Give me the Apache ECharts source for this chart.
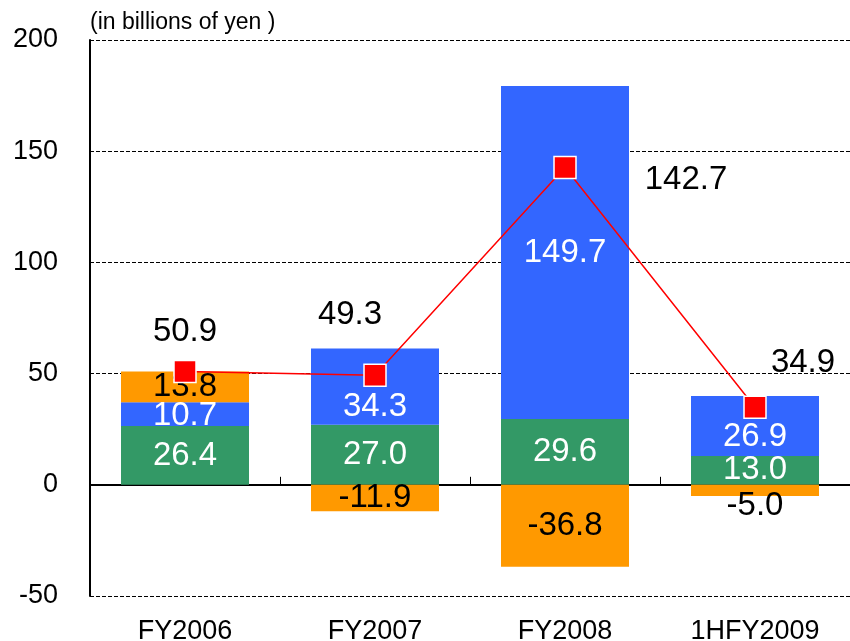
<!DOCTYPE html>
<html>
<head>
<meta charset="utf-8">
<script src="https://cdn.jsdelivr.net/npm/echarts@6/dist/echarts.min.js"></script>
<style>
  html, body { margin: 0; padding: 0; background: #fff; }
  #chart { width: 850px; height: 641px; }
</style>
</head>
<body>
<div id="chart"></div>
<script>
// data
const categories = ['FY2006', 'FY2007', 'FY2008', '1HFY2009'];
const greenValues = [26.4, 27.0, 29.6, 13.0];
const blueValues = [10.7, 34.3, 149.7, 26.9];
const orangeValues = [13.8, -11.9, -36.8, -5.0];
const totalValues = [50.9, 49.3, 142.7, 34.9];

const FONT = '"Liberation Sans", Arial, sans-serif';
const fmt = p => p.value.toFixed(1);

// where each total label sits relative to its marker
const totalLabelOffsets = [[0, -40], [-25, -60], [121, 12], [48, -44]];
// some in-bar labels were nudged down in the original
const blueLabelOffsets = [[0, 2], [0, 20], [0, 0], [0, 11]];

const chart = echarts.init(document.getElementById('chart'));

const barLabel = color => ({
  show: true,
  position: 'inside',
  color: color,
  fontSize: 33,
  fontFamily: FONT,
  formatter: fmt
});

chart.setOption({
  animation: false,
  textStyle: { fontFamily: FONT },
  title: {
    text: '(in billions of yen )',
    left: 85,
    top: 6,
    textStyle: { fontSize: 23, fontWeight: 'normal', color: '#000', fontFamily: FONT }
  },
  grid: { left: 90, right: 0, top: 40, bottom: 45, outerBoundsMode: 'none', containLabel: false },
  xAxis: [
    {
      // category labels along the bottom
      type: 'category',
      data: categories,
      position: 'bottom',
      axisLine: { show: false, onZero: false },
      axisTick: { show: false },
      axisLabel: { color: '#000', fontSize: 27, margin: 22, fontFamily: FONT, hideOverlap: false }
    },
    {
      // the zero line with its small upward ticks
      type: 'category',
      data: categories,
      position: 'bottom',
      axisLine: { onZero: true, lineStyle: { color: '#000', width: 2 } },
      axisTick: { show: true, inside: true, length: 8, lineStyle: { color: '#000', width: 1 } },
      axisLabel: { show: false },
      splitLine: { show: false }
    }
  ],
  yAxis: {
    type: 'value',
    min: -50,
    max: 200,
    interval: 50,
    axisLine: { show: true, lineStyle: { color: '#000', width: 2 } },
    axisTick: { show: false },
    axisLabel: { color: '#000', fontSize: 27, margin: 32, fontFamily: FONT },
    splitLine: { lineStyle: { color: '#000', width: 1, type: [4, 2] } }
  },
  series: [
    {
      name: 'green',
      type: 'bar',
      stack: 'total',
      barWidth: 128,
      data: greenValues,
      itemStyle: { color: '#339966' },
      label: barLabel('#fff')
    },
    {
      name: 'blue',
      type: 'bar',
      stack: 'total',
      data: blueValues.map((v, i) => ({ value: v, label: { offset: blueLabelOffsets[i] } })),
      itemStyle: { color: '#3366FF' },
      label: barLabel('#fff')
    },
    {
      name: 'orange',
      type: 'bar',
      stack: 'total',
      data: orangeValues.map((v, i) => i === 3
        ? { value: v, label: { offset: [0, 16] } }
        : v),
      itemStyle: { color: '#FF9900' },
      label: barLabel('#000')
    },
    {
      name: 'total',
      type: 'line',
      data: totalValues.map((v, i) => ({
        value: v,
        label: { offset: totalLabelOffsets[i] }
      })),
      z: 5,
      symbol: 'rect',
      symbolSize: 22,
      lineStyle: { color: '#FF0000', width: 1.5 },
      itemStyle: { color: '#FF0000', borderColor: '#fff', borderWidth: 1.5 },
      label: {
        show: true,
        position: 'inside',
        color: '#000',
        fontSize: 33,
        fontFamily: FONT,
        formatter: fmt
      }
    }
  ]
});
</script>
</body>
</html>
